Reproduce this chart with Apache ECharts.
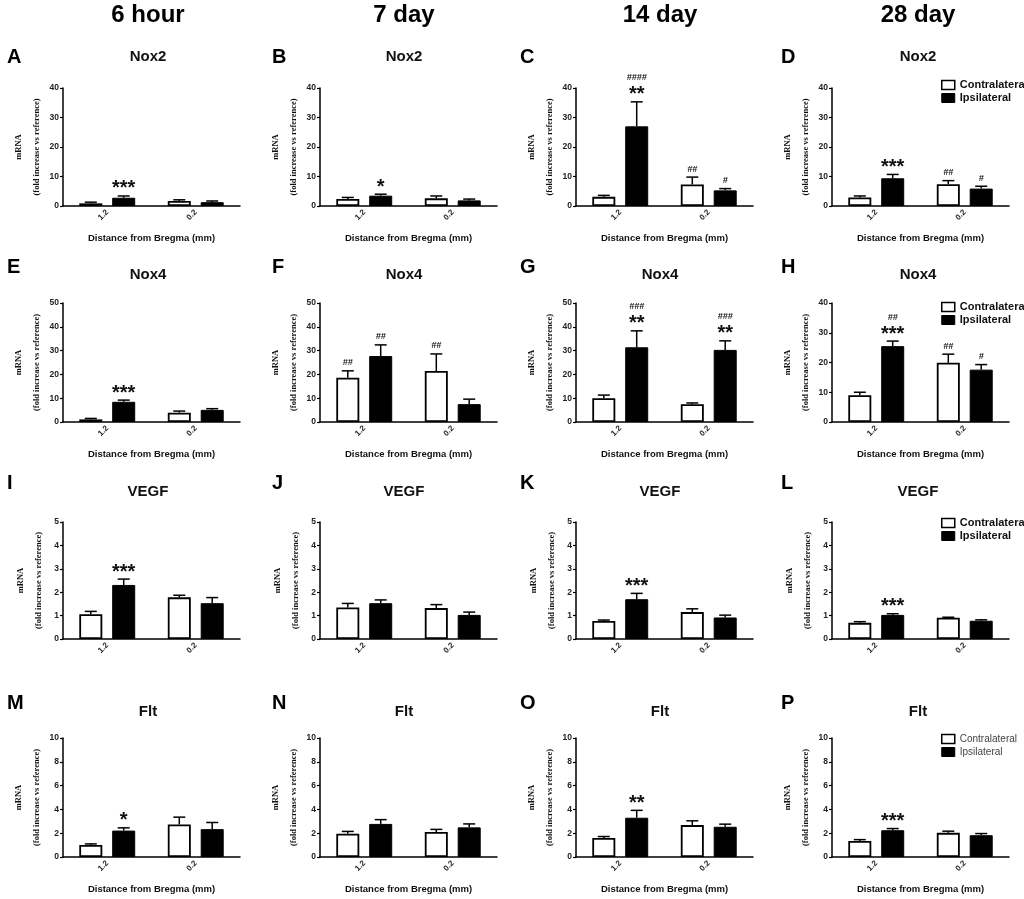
<!DOCTYPE html>
<html><head><meta charset="utf-8">
<script src="https://cdn.jsdelivr.net/npm/echarts@6/dist/echarts.min.js"></script>
<style>html,body{margin:0;padding:0;background:#fff}#c{width:1024px;height:899px}</style>
</head><body><div id="c"></div>
<script>
// ---------- data ----------
const categories = ['1.2', '0.2'];
const timepoints = ['6 hour', '7 day', '14 day', '28 day'];
const panelLetters = [['A','B','C','D'],['E','F','G','H'],['I','J','K','L'],['M','N','O','P']];
const geneTitles = [['Nox2','Nox2','','Nox2'],['Nox4','Nox4','Nox4','Nox4'],['VEGF','VEGF','VEGF','VEGF'],['Flt','Flt','Flt','Flt']];
const yMax = [[40,40,40,40],[50,50,50,40],[5,5,5,5],[10,10,10,10]];
const yStep = [[10,10,10,10],[10,10,10,10],[1,1,1,1],[2,2,2,2]];
const seriesNames = ['Contralateral', 'Ipsilateral'];
const xAxisTitle = 'Distance from Bregma (mm)';
const yAxisTitle = 'mRNA\n(fold increase vs reference)';

// Nox2 (A-D)
const nox2ContraMean = [[0.9,1.7],[2.35,2.6],[3.1,7.3],[2.9,7.4]];
const nox2ContraSem  = [[0.4,0.4],[0.55,0.8],[0.5,2.5],[0.5,1.2]];
const nox2IpsiMean   = [[2.8,1.3],[3.5,1.9],[27.0,5.3],[9.4,5.9]];
const nox2IpsiSem    = [[0.6,0.4],[0.5,0.45],[8.3,0.6],[1.3,0.8]];
const nox2ContraSig  = [['',''],['',''],['','##'],['','##']];
const nox2IpsiSig    = [['***',''],['*',''],['####\n**','#'],['***','#']];
// Nox4 (E-H)
const nox4ContraMean = [[1.1,3.9],[18.6,21.4],[10.0,7.5],[9.0,19.9]];
const nox4ContraSem  = [[0.4,0.7],[2.9,7.2],[1.3,0.5],[1.0,2.9]];
const nox4IpsiMean   = [[8.5,5.1],[27.7,7.5],[31.4,30.3],[25.5,17.6]];
const nox4IpsiSem    = [[0.7,0.5],[4.7,2.1],[6.9,3.8],[1.7,1.7]];
const nox4ContraSig  = [['',''],['##','##'],['',''],['','##']];
const nox4IpsiSig    = [['***',''],['##',''],['###\n**','###\n**'],['##\n***','#']];
// VEGF (I-L)
const vegfContraMean = [[1.06,1.78],[1.35,1.32],[0.77,1.15],[0.69,0.91]];
const vegfContraSem  = [[0.12,0.09],[0.17,0.15],[0.04,0.14],[0.05,0.02]];
const vegfIpsiMean   = [[2.31,1.53],[1.53,1.03],[1.70,0.92],[1.03,0.78]];
const vegfIpsiSem    = [[0.25,0.24],[0.14,0.12],[0.25,0.10],[0.05,0.04]];
const vegfContraSig  = [['',''],['',''],['',''],['','']];
const vegfIpsiSig    = [['***',''],['',''],['***',''],['***','']];
// Flt (M-P)
const fltContraMean = [[1.01,2.73],[1.95,2.1],[1.6,2.68],[1.35,2.03]];
const fltContraSem  = [[0.09,0.62],[0.2,0.22],[0.12,0.36],[0.11,0.14]];
const fltIpsiMean   = [[2.22,2.34],[2.78,2.49],[3.3,2.54],[2.25,1.83]];
const fltIpsiSem    = [[0.23,0.56],[0.36,0.29],[0.62,0.22],[0.14,0.14]];
const fltContraSig  = [['',''],['',''],['',''],['','']];
const fltIpsiSig    = [['*',''],['',''],['**',''],['***','']];

const rowsData = [
  [nox2ContraMean, nox2ContraSem, nox2IpsiMean, nox2IpsiSem, nox2ContraSig, nox2IpsiSig],
  [nox4ContraMean, nox4ContraSem, nox4IpsiMean, nox4IpsiSem, nox4ContraSig, nox4IpsiSig],
  [vegfContraMean, vegfContraSem, vegfIpsiMean, vegfIpsiSem, vegfContraSig, vegfIpsiSig],
  [fltContraMean, fltContraSem, fltIpsiMean, fltIpsiSem, fltContraSig, fltIpsiSig]
];

// ---------- layout ----------
const SANS = '"Liberation Sans", Arial, sans-serif';
const SERIF = '"Liberation Serif", "Times New Roman", serif';
const gridLeft = [63, 320, 576, 832];
const gridWidth = 177;
const rowTop = [88, 303, 522, 738];
const rowBottom = [206, 422, 639, 857];
const colCenter = [148, 404, 660, 918];
const headerY = 15;
const geneY = [57, 275, 492, 712];
const letterX = [7, 272, 520, 781];
const letterY = [57, 267, 483, 703];
const showXName = [true, true, false, true];
const legendTop = [79.5, 301.5, 517.5, 733.5];
const BAR_W = 0.26, BAR_GAP = 0.43;
const OFF = (BAR_W + BAR_W * BAR_GAP) / 2;

function sigRich(s) {
  return s.split('\n').map(t => (t[0] === '#' ? '{h|' + t + '}' : '{s|' + t + '}')).join('\n');
}
function makeErr(means, sems, sigs, grp) {
  return function (params, api) {
    const i = params.dataIndex;
    const m = means[i], e = sems[i], sig = sigs[i];
    const band = api.size([1, 0])[0];
    const p0 = api.coord([i, m]);
    const p1 = api.coord([i, m + e]);
    const x = p0[0] + (grp === 0 ? -1 : 1) * band * OFF;
    const children = [
      { type: 'line', shape: { x1: x, y1: p0[1], x2: x, y2: p1[1] }, style: { stroke: '#000', lineWidth: 1.5 } },
      { type: 'line', shape: { x1: x - 6, y1: p1[1], x2: x + 6, y2: p1[1] }, style: { stroke: '#000', lineWidth: 1.5 } }
    ];
    if (sig) {
      children.push({
        type: 'text',
        style: {
          text: sigRich(sig), x: x, y: p1[1] + 1, align: 'center', verticalAlign: 'bottom',
          rich: {
            h: { fontSize: 9, fontWeight: 'bold', fontStyle: 'italic', fontFamily: SANS, lineHeight: 18, fill: '#111', align: 'center' },
            s: { fontSize: 20, fontWeight: 'bold', fontFamily: SANS, lineHeight: 16, fill: '#111', align: 'center' }
          }
        }
      });
    }
    return { type: 'group', children: children };
  };
}

const grids = [], xAxes = [], yAxes = [], series = [], graphics = [], legends = [];
for (let r = 0; r < 4; r++) {
  const [cm, cs, im, is, csg, isg] = rowsData[r];
  for (let c = 0; c < 4; c++) {
    const idx = r * 4 + c;
    grids.push({ left: gridLeft[c], width: gridWidth, top: rowTop[r], height: rowBottom[r] - rowTop[r] });
    xAxes.push({
      gridIndex: idx, type: 'category', data: categories, boundaryGap: true,
      axisLine: { lineStyle: { color: '#000', width: 1.5 } },
      axisTick: { alignWithLabel: true, length: 3, lineStyle: { color: '#000', width: 1.2 } },
      axisLabel: { rotate: 45, fontSize: 8, fontWeight: 'bold', color: '#222', fontFamily: SANS, margin: 5 },
      name: showXName[r] ? xAxisTitle : '', nameLocation: 'middle', nameGap: 27,
      nameTextStyle: { fontSize: 9.5, fontWeight: 'bold', color: '#111', fontFamily: SANS }
    });
    yAxes.push({
      gridIndex: idx, type: 'value', min: 0, max: yMax[r][c], interval: yStep[r][c],
      axisLine: { show: true, lineStyle: { color: '#000', width: 1.5 } },
      axisTick: { show: true, length: 3, lineStyle: { color: '#000', width: 1.2 } },
      splitLine: { show: false },
      axisLabel: { fontSize: 8.5, fontWeight: 'bold', color: '#222', fontFamily: SANS, margin: 4 },
      name: yAxisTitle, nameLocation: 'middle', nameRotate: 90, nameGap: 15,
      nameTextStyle: { fontSize: 8.5, fontWeight: 'bold', color: '#111', fontFamily: SERIF, lineHeight: 18, align: 'center' }
    });
    series.push({
      name: seriesNames[0], type: 'bar', xAxisIndex: idx, yAxisIndex: idx, data: cm[c],
      barWidth: (BAR_W * 100) + '%', barGap: (BAR_GAP * 100) + '%',
      itemStyle: { color: '#fff', borderColor: '#000', borderWidth: 1.8 }, silent: true, animation: false
    });
    series.push({
      name: seriesNames[1], type: 'bar', xAxisIndex: idx, yAxisIndex: idx, data: im[c],
      barWidth: (BAR_W * 100) + '%', barGap: (BAR_GAP * 100) + '%',
      itemStyle: { color: '#000', borderColor: '#000', borderWidth: 1 }, silent: true, animation: false
    });
    series.push({
      type: 'custom', xAxisIndex: idx, yAxisIndex: idx, z: 5, silent: true, animation: false,
      renderItem: makeErr(cm[c], cs[c], csg[c], 0), data: cm[c].map((v, i) => [i, v + cs[c][i]])
    });
    series.push({
      type: 'custom', xAxisIndex: idx, yAxisIndex: idx, z: 5, silent: true, animation: false,
      renderItem: makeErr(im[c], is[c], isg[c], 1), data: im[c].map((v, i) => [i, v + is[c][i]])
    });
    graphics.push({ type: 'text', style: { text: panelLetters[r][c], x: letterX[c], y: letterY[r], align: 'left', verticalAlign: 'middle', font: 'bold 20px ' + SANS, fill: '#000' } });
    if (geneTitles[r][c]) {
      graphics.push({ type: 'text', style: { text: geneTitles[r][c], x: colCenter[c], y: geneY[r], align: 'center', verticalAlign: 'middle', font: 'bold 15px ' + SANS, fill: '#111' } });
    }
  }
  legends.push({
    left: 941, top: legendTop[r], orient: 'vertical', itemWidth: 13, itemHeight: 9, itemGap: 2, padding: 0,
    selectedMode: false, icon: 'rect',
    data: [
      { name: seriesNames[0], itemStyle: { color: '#fff', borderColor: '#000', borderWidth: 1.5 } },
      { name: seriesNames[1], itemStyle: { color: '#000', borderColor: '#000', borderWidth: 1 } }
    ],
    textStyle: r === 3
      ? { fontSize: 10, fontWeight: 'normal', color: '#444', fontFamily: SANS, lineHeight: 11 }
      : { fontSize: 11, fontWeight: 'bold', color: '#111', fontFamily: SANS, lineHeight: 11 }
  });
}
for (let c = 0; c < 4; c++) {
  graphics.push({ type: 'text', style: { text: timepoints[c], x: colCenter[c], y: headerY, align: 'center', verticalAlign: 'middle', font: 'bold 24px ' + SANS, fill: '#000' } });
}

const chart = echarts.init(document.getElementById('c'), null, { renderer: 'canvas' });
chart.setOption({
  backgroundColor: '#fff', animation: false,
  grid: grids, xAxis: xAxes, yAxis: yAxes, series: series, legend: legends,
  graphic: { elements: graphics }
});
</script></body></html>
